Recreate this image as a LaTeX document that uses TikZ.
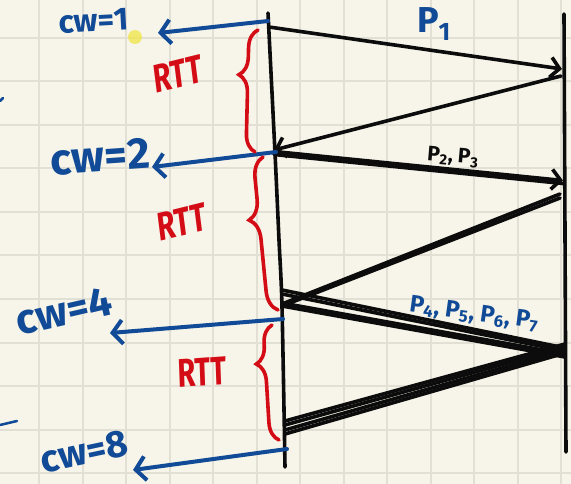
\documentclass[tikz,border=0pt]{standalone}
\usepackage{fontspec}
\setmainfont{Fira Sans}
\usetikzlibrary{arrows.meta,decorations.pathreplacing}
\definecolor{paper}{RGB}{247,245,233}
\definecolor{gridc}{RGB}{226,224,212}
\definecolor{ink}{RGB}{12,12,12}
\definecolor{penblue}{RGB}{17,74,150}
\definecolor{penred}{RGB}{212,12,22}
\definecolor{hl}{RGB}{240,230,70}
\tikzset{
  gridline/.style={draw=gridc, line width=2pt},
  timeline/.style={draw=ink, line width=3.6pt, line cap=round},
  msg/.style={draw=ink, line width=3.6pt, line cap=round},
  msgarrow/.style={msg, -{Straight Barb[length=9pt,width=20pt]}},
  cwarrow/.style={draw=penblue, line width=4pt, line cap=round, -{Straight Barb[length=10pt,width=24pt]}},
  cwlabel/.style={text=penblue, inner sep=0pt},
  plabel/.style={inner sep=0pt},
  rttbrace/.style={draw=penred, line width=3.6pt, line cap=round, decorate},
  rttlabel/.style={text=penred, inner sep=0pt, xscale=0.72},
}
\begin{document}
\begin{tikzpicture}[x=1pt,y=-1pt]
\useasboundingbox (0,0) rectangle (571,484);
\fill[paper] (0,0) rectangle (571,484);
\foreach \i in {0,...,12} \draw[gridline] ({39+43.5*\i},0) -- ({39+43.5*\i},484);
\foreach \i in {0,...,10} \draw[gridline] (0,{38+43.5*\i}) -- (571,{38+43.5*\i});

% timelines
\coordinate (Ltop) at (268,13);
\coordinate (Lbot) at (285,467);
\coordinate (Rtop) at (564,14);
\coordinate (Rbot) at (566,452);
\draw[timeline] plot[smooth] coordinates {(Ltop) (275,153) (279,240) (282,307) (Lbot)};
\draw[timeline] (Rtop) -- (Rbot);

% points on timelines
\coordinate (s1) at (269,27);   \coordinate (r1) at (562,69);
\coordinate (r2) at (561,76);   \coordinate (s2) at (274,150);
\coordinate (s3) at (274,153);  \coordinate (r3) at (563,182);
\coordinate (r4) at (560,196);  \coordinate (s4) at (282,305);
\coordinate (r5) at (565,352);  \coordinate (s5) at (285,432);

% messages
\draw[msgarrow] (s1) -- (r1);
\draw[msgarrow] (r2) -- (s2);
\draw[msg] ([yshift=-1.5pt]s3) -- ([yshift=-1.5pt]r3);
\draw[msgarrow] ([yshift=1.5pt]s3) -- ([yshift=1.5pt]r3);
\draw[msg] ([yshift=-2pt]r4) -- ([yshift=-1pt]s4);
\draw[msg] ([yshift=2pt]r4) -- ([yshift=1pt]s4);
\draw[msg] ([yshift=-1pt]s4) -- ([yshift=-5pt]r5);
\draw[msg] ([yshift=2pt]s4) -- ([yshift=-2pt]r5);
\draw[msg] ([yshift=11pt]s4) -- ([yshift=1pt]r5);
\draw[msg] ([yshift=15pt]s4) -- ([yshift=4pt]r5);
\draw[msg] ([yshift=-1pt]r5) -- ([yshift=-2pt]s5);
\draw[msg] ([yshift=2pt]r5) -- ([yshift=2pt]s5);
\draw[msg] ([yshift=5pt]r5) -- ([yshift=7pt]s5);
\draw[msg] ([yshift=8pt]r5) -- ([yshift=11pt]s5);

% packet labels
\node[plabel, text=penblue, font=\bfseries\fontsize{36}{36}\selectfont] (p1) at (434,24) {P\textsubscript{1}};
\node[plabel, text=ink, font=\bfseries\fontsize{21}{21}\selectfont, rotate=-5] (p23) at (453,157) {P\textsubscript{2}, P\textsubscript{3}};
\node[plabel, text=penblue, font=\bfseries\fontsize{24}{24}\selectfont, rotate=-8] (p47) at (474,314) {P\textsubscript{4}, P\textsubscript{5}, P\textsubscript{6}, P\textsubscript{7}};

% cw arrows
\coordinate (c1s) at (268,21);  \coordinate (c1e) at (158,33);
\coordinate (c2s) at (276,152); \coordinate (c2e) at (152,167);
\coordinate (c3s) at (283,319); \coordinate (c3e) at (110,333);
\coordinate (c4s) at (287,449); \coordinate (c4e) at (133,470);
\draw[cwarrow] (c1s) -- (c1e);
\draw[cwarrow] (c2s) -- (c2e);
\draw[cwarrow] (c3s) -- (c3e);
\draw[cwarrow] (c4s) -- (c4e);

\node[cwlabel, font=\bfseries\fontsize{32}{32}\selectfont, rotate=3] (cw1) at (94,21) {cw=1};
\node[cwlabel, font=\bfseries\fontsize{44}{44}\selectfont, rotate=4] (cw2) at (100,157) {cw=2};
\node[cwlabel, font=\bfseries\fontsize{42}{42}\selectfont, rotate=13] (cw4) at (64,311) {cw=4};
\node[cwlabel, font=\bfseries\fontsize{38}{38}\selectfont, rotate=12] (cw8) at (84,452) {cw=8};

% highlighter dot and stray marks
\fill[hl, opacity=0.75] (135,37) circle (7);
\draw[penblue, line width=2.5pt, line cap=round] (0,101) -- (3,98);
\draw[penblue, line width=2.5pt, line cap=round] (0,425) -- (17,421);

% RTT braces
\draw[rttbrace, decoration={brace, amplitude=18pt, aspect=0.63}] (255,152) -- (258,30);
\draw[rttbrace, decoration={brace, amplitude=20pt, aspect=0.6}] (278,310) -- (263,157);
\draw[rttbrace, decoration={brace, amplitude=18pt, aspect=0.67}] (279,440) -- (272,325);

\node[rttlabel, font=\bfseries\fontsize{40}{40}\selectfont, rotate=10] (rtt1) at (178,74) {RTT};
\node[rttlabel, font=\bfseries\fontsize{40}{40}\selectfont, rotate=10] (rtt2) at (182,222) {RTT};
\node[rttlabel, font=\bfseries\fontsize{40}{40}\selectfont, rotate=3] (rtt3) at (202,372) {RTT};
\end{tikzpicture}
\end{document}
